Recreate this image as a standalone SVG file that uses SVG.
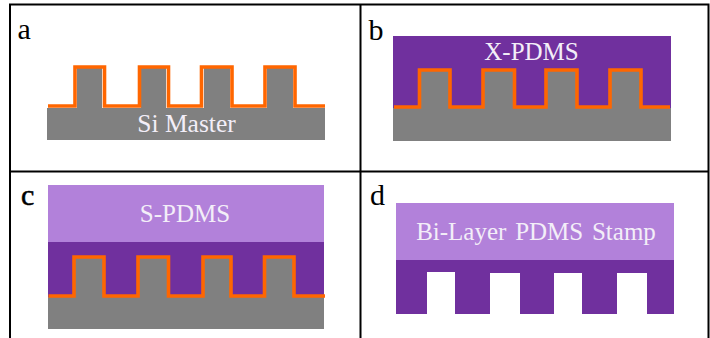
<svg xmlns="http://www.w3.org/2000/svg" width="710" height="338" viewBox="0 0 710 338">
<style>
.frame{fill:none;stroke:#000;stroke-width:2}
.si{fill:#808080}
.x{fill:#70309e}
.s{fill:#b281da}
.au{fill:none;stroke:#ff6600;stroke-width:3.6;stroke-linejoin:miter}
text{font-family:"Liberation Serif","Times New Roman",serif}
.l{font-size:30px;fill:#000}
.t{font-size:25px;fill:#f3eef8;text-anchor:middle}
</style>
<rect width="710" height="338" fill="#fff"/>
<g id="frame">
<path class="frame" d="M10 338V4.500H708.500V338M360.500 4.500V338M10 171.500H708.500"/>
</g>
<g id="panel-a">
<path class="si" d="M47 108H77V68H102V108H141V68H166V108H204V68H230V108H267V68H293V108H325V140H47Z"/>
<path class="au" d="M48 106H75V67H104.500V106H139.500V67H168.500V106H201.500V67H232V106H265V67H295V106H325"/>
<text class="l" x="17.500" y="38.500">a</text>
<text class="t" x="186.500" y="132" style="font-size:25.500px">Si Master</text>
</g>
<g id="panel-b">
<rect class="x" x="393" y="36" width="278" height="72"/>
<path class="si" d="M393 108H420V70H449V108H484V70H513V108H547V70H576V108H611V70H640V108H671V141H393Z"/>
<path class="au" d="M394 107H419.500V70H450V107H483V70H514.500V107H546V70H577V107H610V70H641V107H670"/>
<text class="l" x="368.500" y="40">b</text>
<text class="t" x="531.500" y="60">X-PDMS</text>
</g>
<g id="panel-c">
<rect class="s" x="48" y="185" width="276" height="57"/>
<rect class="x" x="48" y="242" width="276" height="55"/>
<path class="si" d="M48 297H75V258H104V297H139V258H168V297H203V258H231V297H265V258H294V297H324V329H48Z"/>
<path class="au" d="M48.500 296H74V257H104V296H138V257H168.500V296H203V257H231V296H264.500V257H294V296H325"/>
<text class="l" x="21" y="205" style="stroke:#000;stroke-width:.5px">c</text>
<text class="t" x="185" y="222">S-PDMS</text>
</g>
<g id="panel-d">
<rect class="s" x="396" y="203" width="278" height="57"/>
<path class="x" d="M396 260H674V314H647V273H617V314H582V273H554V314H520V273H490V314H455V272H427V314H396Z"/>
<text class="l" x="370" y="205">d</text>
<text class="t" x="536" y="240" style="word-spacing:2.500px">Bi-Layer PDMS Stamp</text>
</g>
</svg>
